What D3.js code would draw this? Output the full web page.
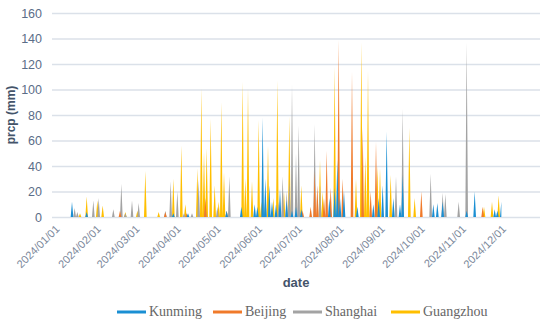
<!DOCTYPE html>
<html>
<head>
<meta charset="utf-8">
<script src="https://cdn.jsdelivr.net/npm/d3@7"></script>
<style>
  body { margin: 0; background: #fff; }
  svg { display: block; }
</style>
</head>
<body>
<svg id="chart" width="550" height="325"></svg>
<script>
// Series names in legend order
const cities = ["Kunming", "Beijing", "Shanghai", "Guangzhou"];

// Daily precipitation (mm), only the rainy days; every other day is 0
const kunming = [
  ["2024-01-16", 12], ["2024-01-27", 4], ["2024-04-01", 3], ["2024-04-12", 3],
  ["2024-05-11", 5], ["2024-05-22", 8], ["2024-06-01", 10], ["2024-06-03", 8],
  ["2024-06-07", 78], ["2024-06-09", 30], ["2024-06-12", 25], ["2024-06-14", 12],
  ["2024-06-17", 10], ["2024-06-20", 22], ["2024-06-25", 13], ["2024-06-29", 5],
  ["2024-07-02", 8], ["2024-07-06", 6], ["2024-07-27", 15], ["2024-07-31", 23],
  ["2024-08-02", 45], ["2024-08-04", 15], ["2024-08-07", 20], ["2024-08-17", 8],
  ["2024-08-29", 10], ["2024-09-02", 15], ["2024-09-05", 25], ["2024-09-08", 67],
  ["2024-09-13", 15], ["2024-09-18", 10], ["2024-09-20", 33], ["2024-10-13", 10],
  ["2024-10-16", 11], ["2024-10-20", 12], ["2024-11-07", 5], ["2024-11-13", 20],
  ["2024-11-28", 6], ["2024-11-30", 5], ["2024-12-03", 12]
];
const beijing = [
  ["2024-02-21", 5], ["2024-03-26", 4], ["2024-04-11", 3], ["2024-04-25", 15],
  ["2024-05-11", 5], ["2024-07-07", 5], ["2024-07-13", 8], ["2024-07-16", 36],
  ["2024-07-18", 25], ["2024-07-23", 15], ["2024-07-25", 52], ["2024-07-28", 23],
  ["2024-08-03", 139], ["2024-08-06", 30], ["2024-08-13", 114], ["2024-08-21", 70],
  ["2024-08-27", 20], ["2024-08-31", 59], ["2024-10-04", 20], ["2024-11-19", 8]
];
const shanghai = [
  ["2024-01-18", 7], ["2024-01-20", 4], ["2024-02-01", 13], ["2024-02-05", 15],
  ["2024-02-16", 6], ["2024-02-22", 26], ["2024-02-25", 3], ["2024-03-01", 13],
  ["2024-03-06", 11], ["2024-03-26", 5], ["2024-03-30", 28], ["2024-04-04", 20],
  ["2024-04-09", 3], ["2024-04-15", 3], ["2024-04-20", 29], ["2024-04-25", 8],
  ["2024-05-04", 8], ["2024-05-13", 32], ["2024-06-09", 15], ["2024-06-19", 12],
  ["2024-06-22", 32], ["2024-06-25", 20], ["2024-06-27", 30], ["2024-06-29", 104],
  ["2024-07-02", 50], ["2024-07-04", 72], ["2024-07-16", 73], ["2024-07-20", 25],
  ["2024-09-15", 32], ["2024-09-20", 85], ["2024-10-11", 34], ["2024-10-20", 19],
  ["2024-10-22", 18], ["2024-11-01", 12], ["2024-11-07", 137]
];
const guangzhou = [
  ["2024-01-22", 3], ["2024-01-27", 16], ["2024-02-04", 13], ["2024-02-08", 9],
  ["2024-02-25", 4], ["2024-03-05", 5], ["2024-03-11", 36], ["2024-03-21", 4],
  ["2024-04-01", 30], ["2024-04-07", 56], ["2024-04-10", 10], ["2024-04-19", 38],
  ["2024-04-22", 101], ["2024-04-24", 51], ["2024-04-26", 54], ["2024-04-29", 77],
  ["2024-05-02", 25], ["2024-05-05", 12], ["2024-05-07", 90], ["2024-05-09", 35],
  ["2024-05-23", 106], ["2024-05-25", 30], ["2024-05-27", 101], ["2024-05-30", 28],
  ["2024-06-04", 76], ["2024-06-06", 12], ["2024-06-11", 56], ["2024-06-15", 15],
  ["2024-06-18", 107], ["2024-06-23", 20], ["2024-06-27", 79], ["2024-07-06", 25],
  ["2024-07-20", 45], ["2024-07-22", 20], ["2024-07-31", 118], ["2024-08-16", 30],
  ["2024-08-20", 137], ["2024-08-23", 47], ["2024-08-25", 115], ["2024-09-01", 40],
  ["2024-09-03", 38], ["2024-09-11", 33], ["2024-09-25", 70], ["2024-09-29", 15],
  ["2024-11-20", 8], ["2024-11-26", 12], ["2024-12-01", 17]
];

// Observation period and axis ticks
const firstDay = "2024-01-01", lastDay = "2024-12-03";
const yTicks = [0, 20, 40, 60, 80, 100, 120, 140, 160];
const monthTicks = ["2024-01-01", "2024-02-01", "2024-03-01", "2024-04-01", "2024-05-01", "2024-06-01",
  "2024-07-01", "2024-08-01", "2024-09-01", "2024-10-01", "2024-11-01", "2024-12-01"];

const colors = {
  Kunming: "#1a8fd3",
  Beijing: "#f07a2a",
  Shanghai: "#a3a3a3",
  Guangzhou: "#ffbf00"
};

const svg = d3.select("#chart"),
    margin = { top: 13, right: 10, bottom: 108, left: 52 },
    width = +svg.attr("width") - margin.left - margin.right,
    height = +svg.attr("height") - margin.top - margin.bottom,
    g = svg.append("g").attr("transform", `translate(${margin.left},${margin.top})`);

const parseTime = d3.timeParse("%Y-%m-%d");
const fmt = d3.timeFormat("%Y-%m-%d");

// one value per day, dry days as 0
const days = d3.timeDay.range(parseTime(firstDay), d3.timeDay.offset(parseTime(lastDay), 1));
const raw = { Kunming: kunming, Beijing: beijing, Shanghai: shanghai, Guangzhou: guangzhou };
const series = cities.map(c => {
  const m = new Map(raw[c]);
  return { name: c, values: days.map(d => ({ date: d, value: m.get(fmt(d)) || 0 })) };
});

const x = d3.scaleTime()
    .domain([parseTime("2024-01-01"), parseTime("2025-01-01")])
    .range([0, width]);
const y = d3.scaleLinear().domain([0, 160]).range([height, 0]);

// gridlines
g.append("g")
    .attr("class", "grid")
    .call(d3.axisLeft(y).tickValues(yTicks).tickSize(-width).tickFormat(""))
    .call(s => s.select(".domain").remove())
    .call(s => s.selectAll("line").attr("stroke", "#dbe1e9").attr("stroke-width", 1.4));

// areas, Kunming ends up in front
const area = d3.area()
    .x(d => x(d.date))
    .y0(y(0))
    .y1(d => y(d.value));

g.selectAll(".area")
    .data(series.slice().reverse())
    .enter().append("path")
    .attr("class", "area")
    .attr("d", d => area(d.values))
    .style("fill", d => colors[d.name]);

// Y axis labels
g.append("g")
    .attr("class", "axis axis--y")
    .call(d3.axisLeft(y).tickValues(yTicks).tickSize(0).tickPadding(10))
    .call(s => s.select(".domain").remove())
    .call(s => s.selectAll("text")
        .attr("fill", "#5b6d88")
        .style("font-family", "'Liberation Sans', Arial, sans-serif")
        .style("font-size", "12.5px"));

// X axis labels, rotated
g.append("g")
    .attr("class", "axis axis--x")
    .attr("transform", `translate(0,${height})`)
    .call(d3.axisBottom(x)
        .tickValues(monthTicks.map(parseTime))
        .tickSize(0)
        .tickFormat(d3.timeFormat("%Y/%m/%d")))
    .call(s => s.select(".domain").remove())
    .call(s => s.selectAll("text")
        .attr("y", 0)
        .attr("dy", "0.35em")
        .attr("text-anchor", "end")
        .attr("transform", "translate(5,10) rotate(-45)")
        .attr("fill", "#7a879a")
        .style("font-family", "'Liberation Sans', Arial, sans-serif")
        .style("font-size", "11px"));

// axis titles
svg.append("text")
    .attr("x", margin.left + width / 2)
    .attr("y", 287)
    .attr("text-anchor", "middle")
    .attr("fill", "#44546a")
    .style("font-family", "'Liberation Sans', Arial, sans-serif")
    .style("font-size", "13px")
    .style("font-weight", "bold")
    .text("date");

svg.append("text")
    .attr("transform", `translate(15,${margin.top + height / 2}) rotate(-90)`)
    .attr("text-anchor", "middle")
    .attr("fill", "#44546a")
    .style("font-family", "'Liberation Sans', Arial, sans-serif")
    .style("font-size", "12px")
    .style("font-weight", "bold")
    .text("prcp (mm)");

// legend
const legendX = [117, 213, 293, 391];
const legend = svg.selectAll(".legend")
    .data(cities)
    .enter().append("g")
    .attr("class", "legend")
    .attr("transform", (d, i) => `translate(${legendX[i]},312)`);

legend.append("line")
    .attr("x1", 0).attr("x2", 29)
    .attr("stroke", d => colors[d])
    .attr("stroke-width", 3);

legend.append("text")
    .attr("x", 32)
    .attr("dy", "0.32em")
    .attr("fill", "#666")
    .style("font-family", "'Liberation Serif', 'Times New Roman', serif")
    .style("font-size", "14px")
    .text(d => d);
</script>
</body>
</html>
